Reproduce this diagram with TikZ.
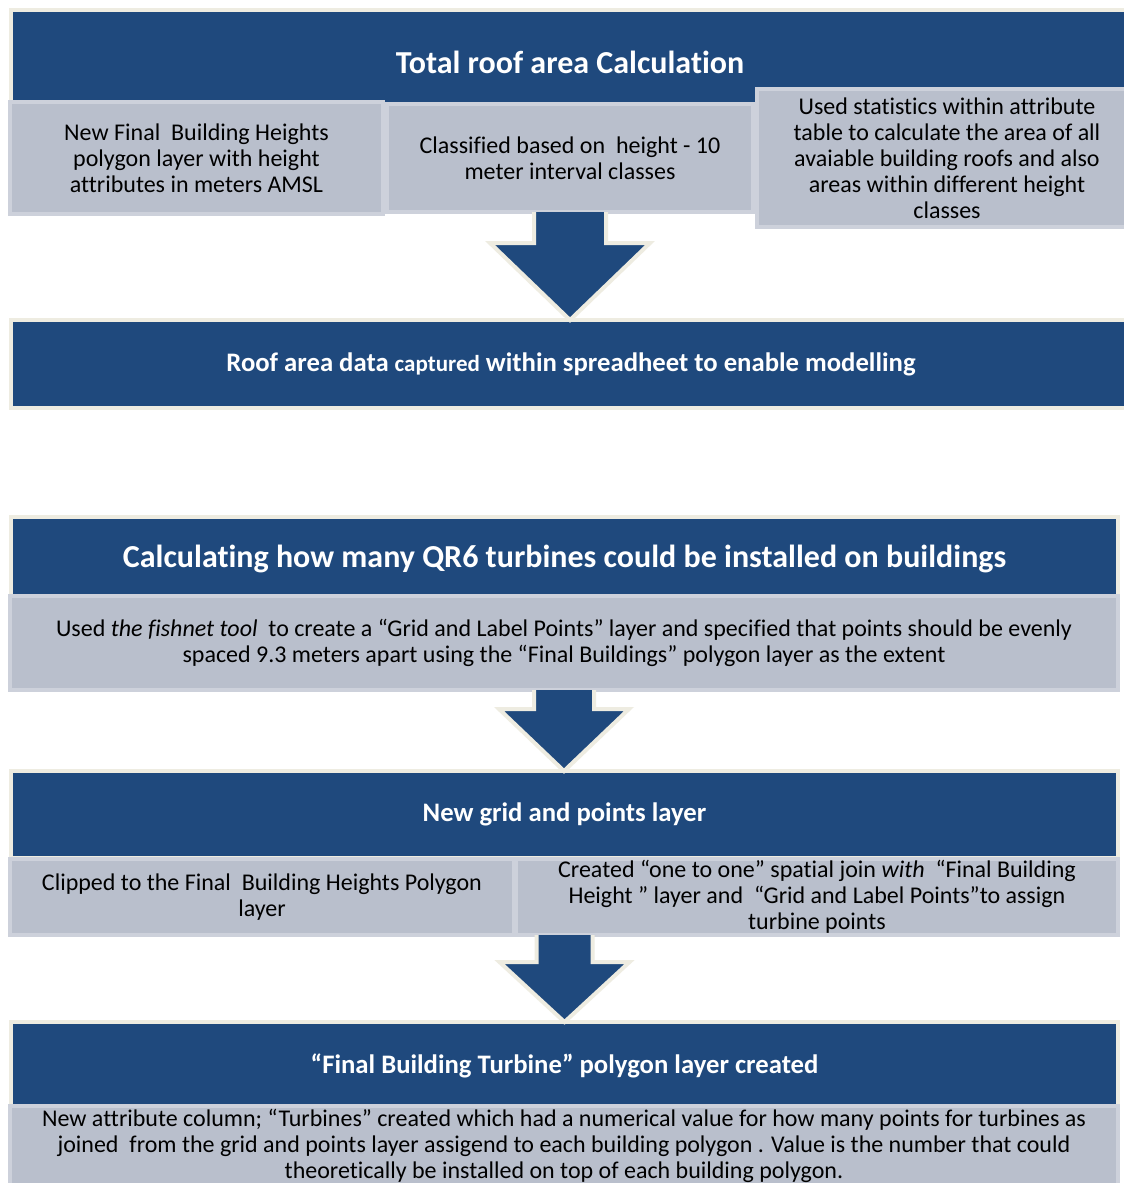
\documentclass[tikz,border=0pt]{standalone}
\usepackage{fontspec}
\setmainfont{Carlito}[Ligatures=NoCommon]
\usetikzlibrary{calc}
\definecolor{flowBlue}{HTML}{1F497D}
\definecolor{flowFrame}{HTML}{EEECE1}
\definecolor{flowGray}{HTML}{B9BFCC}
\definecolor{flowGrayEdge}{HTML}{CDD1DB}
\tikzset{
  flow chart/.style={
    x=1pt, y=-1pt,
    every node/.style={inner sep=0pt, outer sep=0pt, align=center,
      anchor=north west}
  },
  flow head/.style={fill=flowBlue, draw=flowFrame, line width=4pt,
    text=white, font=\bfseries\fontsize{26.7}{31}\selectfont},
  flow title/.style={flow head, font=\bfseries\fontsize{32}{38}\selectfont},
  flow step/.style={fill=flowGray, draw=flowGrayEdge, line width=4pt,
    text=black, font=\fontsize{24}{26}\selectfont},
  flow arrow/.style={fill=flowBlue, draw=flowFrame, line width=4pt,
    line join=miter}
}
% block arrow: start point, target node, shaft half width, head half width, head length
\newcommand{\FlowArrow}[5]{%
  \filldraw[flow arrow] let \p1=#1, \p2=(#2.north) in
    (\x1-#3,\y1) -- (\x1-#3,\y2+#5) -- (\x1-#4,\y2+#5) -- (\x1,\y2)
    -- (\x1+#4,\y2+#5) -- (\x1+#3,\y2+#5) -- (\x1+#3,\y1);
}

\begin{document}
\begin{tikzpicture}[flow chart]
  \fill[white] (0,0) rectangle (1124,1183);
  \useasboundingbox (0,0) rectangle (1124,1183);

  % roof area
  \node[flow title, minimum width=1118pt, minimum height=104pt] (roofHead)
    at (11,10) {Total roof area Calculation};
  \node[flow step, minimum width=373pt, minimum height=112pt] (heightLayer)
    at (10,102) {New Final\ \ Building Heights\\polygon layer with height\\attributes in meters AMSL};
  \node[flow step, minimum width=366pt, minimum height=108pt] (heightClass)
    at (387,104) {Classified based on\ \ height - 10\\meter interval classes};
  \node[flow step, minimum width=380pt, minimum height=138pt] (areaStats)
    at (757,89) {Used statistics within attribute\\table to calculate the area of all\\avaiable building roofs and also\\areas within different height\\classes};
  \node[flow head, minimum width=1120pt, minimum height=88pt] (roofData)
    at (11,320) {Roof area data {\fontsize{23}{26}\selectfont captured} within spreadheet to enable modelling};

  % turbines
  \node[flow title, minimum width=1107pt, minimum height=84pt] (turbineHead)
    at (11,517) {Calculating how many QR6 turbines could be installed on buildings};
  \node[flow step, minimum width=1108pt, minimum height=94pt] (fishnet)
    at (10,596) {Used \textit{the fishnet tool}\ \ to create a “Grid and Label Points” layer and specified that points should be evenly\\spaced 9.3 meters apart using the “Final Buildings” polygon layer as the extent};
  \node[flow head, minimum width=1107pt, minimum height=87pt] (gridHead)
    at (11,771) {New grid and points layer};
  \node[flow step, minimum width=504pt, minimum height=76pt] (clipStep)
    at (10,859) {Clipped to the Final\ \ Building Heights Polygon\\layer};
  \node[flow step, minimum width=602pt, minimum height=76pt] (joinStep)
    at (516,859) {Created “one to one” spatial join \textit{with}\ \ “Final Building\\Height ” layer and\ \ “Grid and Label Points”to assign\\turbine points};
  \node[flow head, minimum width=1107pt, minimum height=88pt] (turbineLayer)
    at (11,1022) {“Final Building Turbine” polygon layer created};
  \node[flow step, minimum width=1108pt, minimum height=80pt] (turbineCount)
    at (10,1106) {New attribute column; “Turbines” created which had a numerical value for how many points for turbines as\\joined\ \ from the grid and points layer assigend to each building polygon . Value is the number that could\\theoretically be installed on top of each building polygon.};

  \FlowArrow{(heightClass.south)}{roofData}{36}{80}{77}
  \FlowArrow{(fishnet.south)}{gridHead}{30}{65}{62}
  \FlowArrow{(gridHead.center |- joinStep.south)}{turbineLayer}{28}{65}{60}
\end{tikzpicture}
\end{document}
